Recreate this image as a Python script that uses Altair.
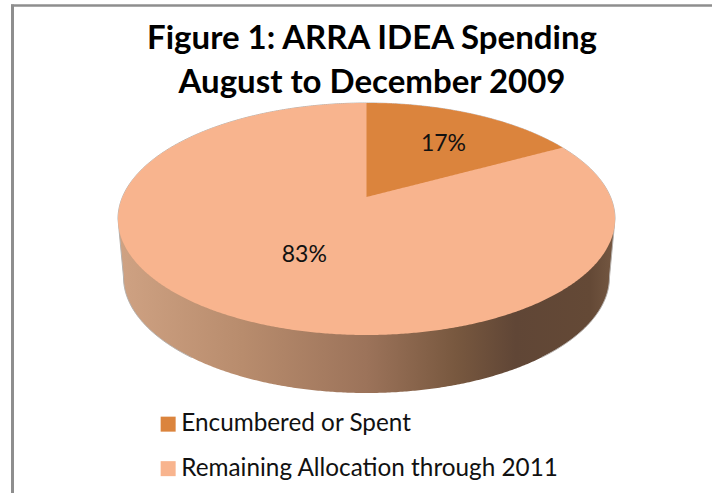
import math
import altair as alt
import numpy as np
import pandas as pd

W, H = 712, 493
FONT = "Lato"

slice_names = ["Encumbered or Spent", "Remaining Allocation through 2011"]
slice_shares = [17, 83]
slice_colors = ["#DB843D", "#F8B48E"]
title_lines = ["Figure 1: ARRA IDEA Spending", "August to December 2009"]

# Tilted-disc geometry of the pie, in canvas units
CX, CY, RX, RY = 366.5, 219.0, 248.5, 116.0
APEX_SHIFT = -22.0            # the hub sits above the ellipse midpoint under perspective
BASE_CY, BASE_RX, BASE_RY = 277.0, 243.0, 116.0
k = APEX_SHIFT / RY
A = RX * math.sqrt(1 - k * k)


def project(angle_deg, r=1.0):
    """Map a polar position on the flat pie onto the tilted face."""
    t = math.radians(angle_deg)
    u, v = r * math.sin(t), -r * math.cos(t)
    w = 1 + k * v
    return CX + A * u / w, CY + (RY * v + APEX_SHIFT) / w


t = np.linspace(0, math.pi, 361)
edge_x = CX - RX * np.cos(t)
edge_half = RY * np.sin(t)

# Top face of the pie
face = pd.DataFrame({
    "x": edge_x,
    "y": CY - edge_half,
    "y2": CY + edge_half,
    "slice": slice_names[1],
})

# Wedge of the first slice, starting at twelve o'clock
sweep = slice_shares[0] / sum(slice_shares) * 360
hub_x, hub_y = project(0, 0)
end_x, end_y = project(sweep)
wx = np.linspace(CX, end_x, 120)
wedge = pd.DataFrame({
    "x": wx,
    "y": CY - RY * np.sqrt(1 - ((wx - CX) / RX) ** 2),
    "y2": hub_y + (end_y - hub_y) * (wx - hub_x) / (end_x - hub_x),
    "slice": slice_names[0],
})

# Side wall: the span from the face's widest line down to the base ellipse
side_x = np.concatenate([[CX - RX], CX - BASE_RX * np.cos(t), [CX + RX]])
side_y = CY + 0 * side_x
base_y = BASE_CY + BASE_RY * np.sin(t)
side_low = np.concatenate([[CY], base_y, [CY]])
wall = pd.DataFrame({"x": side_x, "y": side_y, "y2": side_low})

# Thin grey rim along the back of the disc and the outer sides of the wall
rim = pd.DataFrame({"x": edge_x, "y": CY - edge_half})
left_rim = pd.DataFrame({"x": side_x[:90], "y": side_low[:90]})
right_rim = pd.DataFrame({"x": side_x[-90:], "y": side_low[-90:]})

# Percentage labels
lab_pts = [project(sweep / 2, 0.63), project(sweep + (360 - sweep) / 2, 0.63)]
labels = pd.DataFrame({
    "x": [p[0] for p in lab_pts],
    "y": [p[1] for p in lab_pts],
    "text": [f"{v}%" for v in slice_shares],
    "dx": [6, 25],
    "dy": [2, -10],
})

xs = alt.Scale(domain=[0, W], range=[0, W], nice=False, zero=False)
ys = alt.Scale(domain=[0, H], range=[0, H], nice=False, zero=False)
X = alt.X("x:Q", scale=xs, axis=None)
Y = alt.Y("y:Q", scale=ys, axis=None, stack=None)
Y2 = alt.Y2("y2:Q")

wall_fill = alt.Gradient(
    gradient="linear", x1=0, x2=1, y1=0, y2=0,
    stops=[
        alt.GradientStop(offset=0.0, color="#CFA283"),
        alt.GradientStop(offset=0.25, color="#B88C6D"),
        alt.GradientStop(offset=0.5, color="#9C735A"),
        alt.GradientStop(offset=0.68, color="#78583F"),
        alt.GradientStop(offset=0.8, color="#604636"),
        alt.GradientStop(offset=0.95, color="#644936"),
        alt.GradientStop(offset=1.0, color="#755842"),
    ],
)

color = alt.Color(
    "slice:N",
    scale=alt.Scale(domain=slice_names, range=slice_colors),
    legend=alt.Legend(
        title=None, orient="none", legendX=156, legendY=412,
        symbolType="square", symbolSize=225, symbolStrokeWidth=0, symbolOpacity=1,
        labelFont=FONT, labelFontSize=24.3, labelColor="#111111", labelLimit=420,
        labelOffset=1, rowPadding=19.5, padding=0,
    ),
)

wall_layer = alt.Chart(wall).mark_area(color=wall_fill).encode(X, Y, Y2)
slices_layer = alt.Chart(pd.concat([face, wedge])).mark_area(opacity=1).encode(X, Y, Y2, color=color)
rim_style = dict(color="#B5B0AC", strokeWidth=1)
rims = [alt.Chart(d).mark_line(**rim_style).encode(X, Y, order=alt.Order("x:Q")) for d in (rim, left_rim, right_rim)]
label_layers = [
    alt.Chart(labels.iloc[[i]]).mark_text(
        font=FONT, fontSize=23, color="#111111",
        dx=int(labels.dx[i]), dy=int(labels.dy[i]),
    ).encode(X, Y, text="text:N")
    for i in range(len(labels))
]

# Frame of the chart area: left and top edges, meeting at the top-left corner
left_edge = alt.Chart(pd.DataFrame({"x": [12.5], "y": [4.5], "y2": [H]})).mark_rule(
    color="#8E8E8E", strokeWidth=3
).encode(X, Y, Y2)
top_edge = alt.Chart(pd.DataFrame({"x": [11], "x2": [W], "y": [5.5]})).mark_rule(
    color="#8E8E8E", strokeWidth=2.5
).encode(X, alt.X2("x2:Q"), Y)

chart = alt.layer(
    wall_layer, *rims, slices_layer, *label_layers, left_edge, top_edge
).properties(
    width=W, height=H, padding=0,
    autosize=alt.AutoSizeParams(type="none"),
    background="white",
    title=alt.TitleParams(
        text=title_lines, font=FONT, fontSize=33, fontWeight="bold", color="#000000",
        anchor="start", align="center", dx=372, dy=100, lineHeight=44, offset=0, frame="group",
    ),
).configure_view(stroke=None)

chart.save("out.html", embed_options={"renderer": "svg", "actions": False})
